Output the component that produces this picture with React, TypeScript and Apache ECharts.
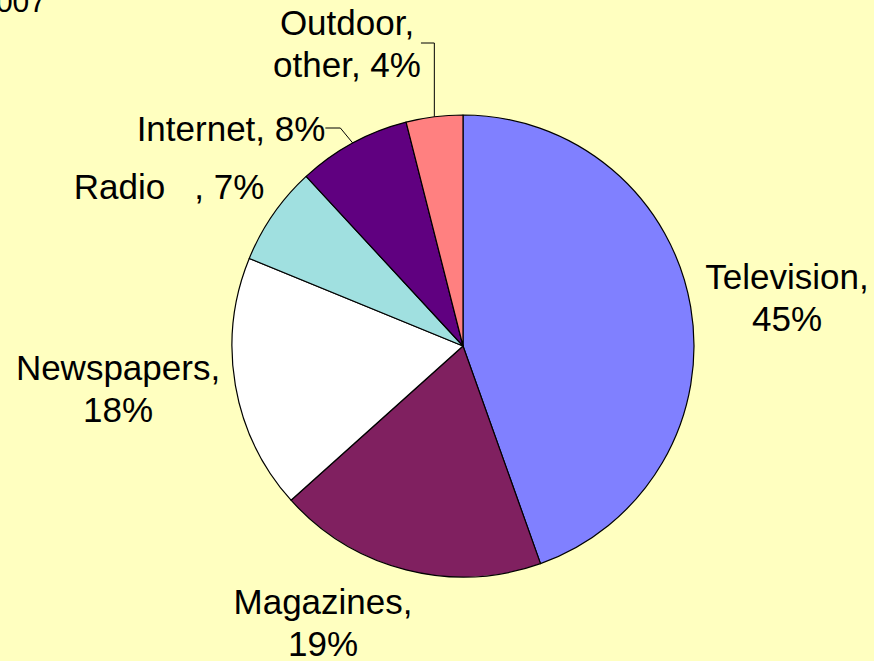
import React, { useEffect, useRef } from "react";
import * as echarts from "echarts";

const categories = ["Television", "Magazines", "Newspapers", "Radio", "Internet", "Outdoor, other"];
const values = [45, 19, 18, 7, 8, 4];
const labelTexts = ["Television,\n45%", "Magazines,\n19%", "Newspapers,\n18%", "Radio   , 7%", "Internet, 8%", "Outdoor,\nother, 4%"];
const colors = ["#8080FF", "#802060", "#FFFFFF", "#A0E0E0", "#600080", "#FF8080"];
const showLine = [false, false, false, false, true, true];
const labelPos: [number, number][] = [
  [787, 297],
  [323, 622],
  [118, 388],
  [169, 186],
  [231, 128],
  [347, 43],
];

export default function App() {
  const ref = useRef<HTMLDivElement>(null);
  useEffect(() => {
    document.body.style.margin = "0";
    const chart = echarts.init(ref.current!, null, { renderer: "svg" });
    chart.setOption({
      animation: false,
      backgroundColor: "#FFFFC0",
      graphic: [
        {
          type: "text",
          x: 46,
          y: 16,
          style: {
            text: "2007",
            fontSize: 30,
            fontFamily: "Arial, 'Liberation Sans', sans-serif",
            fill: "#000",
            align: "right",
            verticalAlign: "bottom",
          },
        },
      ],
      series: [
        {
          type: "pie",
          center: [463, 346],
          radius: 231,
          startAngle: 90,
          clockwise: true,
          avoidLabelOverlap: false,
          itemStyle: { borderColor: "#000", borderWidth: 1.2 },
          label: {
            show: true,
            color: "#000",
            fontSize: 35,
            lineHeight: 42,
            fontFamily: "Arial, 'Liberation Sans', sans-serif",
            align: "center",
            formatter: (p: any) => labelTexts[p.dataIndex],
          },
          labelLine: { show: true, lineStyle: { color: "#000", width: 1 }, length: 15, length2: 15 },
          labelLayout: (p: any) => ({
            x: labelPos[p.dataIndex][0],
            y: labelPos[p.dataIndex][1],
            align: "center",
            verticalAlign: "middle",
          }),
          data: categories.map((c, i) => ({
            name: c,
            value: values[i],
            itemStyle: { color: colors[i] },
            labelLine: { show: showLine[i] },
          })),
        },
      ],
    });
    return () => chart.dispose();
  }, []);
  return <div ref={ref} style={{ width: 874, height: 661 }} />;
}
